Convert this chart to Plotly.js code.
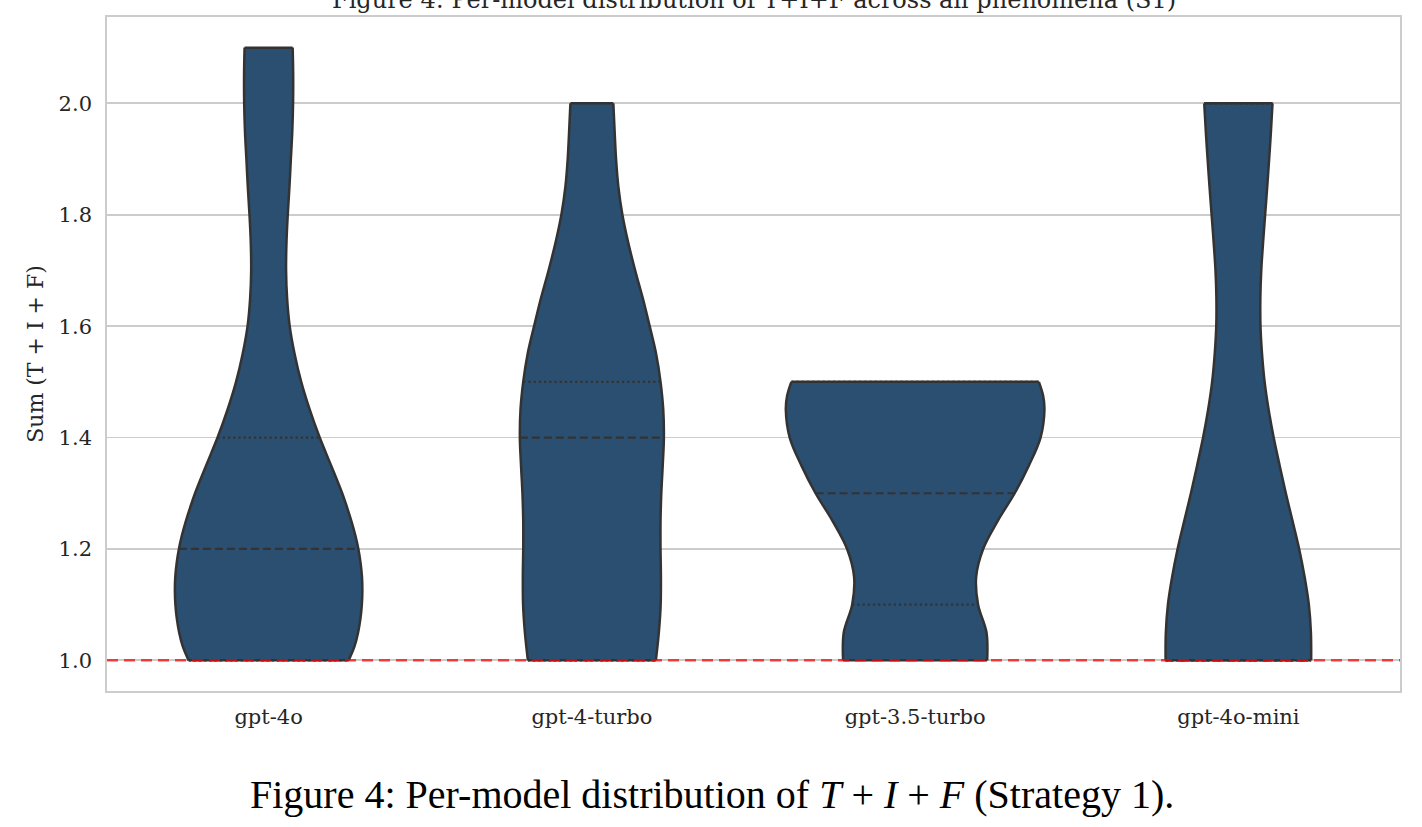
<!DOCTYPE html>
<html>
<head>
<meta charset="utf-8">
<script src="https://cdn.plot.ly/plotly-3.0.1.min.js"></script>
<style>
html,body{margin:0;padding:0;background:#ffffff;}
#chart{width:1422px;height:827px;}
</style>
</head>
<body>
<div id="chart"></div>
<script>
// ---------- data ----------
const models = ['gpt-4o', 'gpt-4-turbo', 'gpt-3.5-turbo', 'gpt-4o-mini'];

// value levels (T+I+F) and relative kernel density at each level (widest violin = 1)
const gpt4o_levels = [1.00,1.025,1.05,1.075,1.10,1.125,1.15,1.175,1.20,1.225,1.25,1.275,1.30,1.35,1.40,1.45,1.50,1.55,1.60,1.65,1.70,1.75,1.80,1.85,1.90,1.95,2.00,2.05,2.10];
const gpt4o_density = [0.619,0.664,0.692,0.710,0.721,0.725,0.722,0.711,0.694,0.670,0.640,0.606,0.569,0.483,0.395,0.318,0.252,0.201,0.163,0.143,0.135,0.138,0.148,0.161,0.172,0.183,0.189,0.190,0.186];

const gpt4turbo_levels = [1.00,1.05,1.10,1.15,1.20,1.25,1.30,1.35,1.40,1.45,1.50,1.55,1.60,1.65,1.70,1.75,1.80,1.85,1.90,1.95,2.00];
const gpt4turbo_density = [0.495,0.518,0.532,0.534,0.531,0.531,0.537,0.548,0.557,0.552,0.531,0.497,0.447,0.394,0.335,0.281,0.236,0.205,0.187,0.176,0.166];

const gpt35turbo_levels = [1.00,1.05,1.10,1.15,1.20,1.25,1.30,1.35,1.40,1.45,1.475,1.50];
const gpt35turbo_density = [0.557,0.552,0.487,0.472,0.526,0.638,0.770,0.880,0.970,1.000,0.990,0.957];

const gpt4omini_levels = [1.00,1.05,1.10,1.15,1.20,1.25,1.30,1.35,1.40,1.45,1.50,1.55,1.60,1.65,1.70,1.75,1.80,1.85,1.90,1.95,2.00];
const gpt4omini_density = [0.563,0.561,0.545,0.512,0.470,0.419,0.367,0.319,0.273,0.234,0.203,0.183,0.171,0.170,0.177,0.191,0.207,0.223,0.238,0.252,0.264];

// quartiles [Q1, median, Q3]
const gpt4o_quartiles = [1.0, 1.2, 1.4];
const gpt4turbo_quartiles = [1.0, 1.4, 1.5];
const gpt35turbo_quartiles = [1.1, 1.3, 1.5];
const gpt4omini_quartiles = [1.0, 1.0, 2.0];

const yTickValues = [1.0, 1.2, 1.4, 1.6, 1.8, 2.0];
const yTickLabels = ['1.0', '1.2', '1.4', '1.6', '1.8', '2.0'];
const referenceValue = 1.0;

const titleText = 'Figure 4: Per-model distribution of T+I+F across all phenomena (S1)';
const yTitleText = 'Sum (T + I + F)';
const captionText = 'Figure 4: Per-model distribution of <i>T</i> + <i>I</i> + <i>F</i> (Strategy 1).';

// ---------- styling ----------
const FILL = '#2b4f70';
const EDGE = '#333333';
const HALF = 0.4;           // half of the violin width (category units)
const SERIF = 'DejaVu Serif, serif';
const TEXT = '#262626';

const levelsList = [gpt4o_levels, gpt4turbo_levels, gpt35turbo_levels, gpt4omini_levels];
const densityList = [gpt4o_density, gpt4turbo_density, gpt35turbo_density, gpt4omini_density];
const quartileList = [gpt4o_quartiles, gpt4turbo_quartiles, gpt35turbo_quartiles, gpt4omini_quartiles];

function densityAt(levels, dens, v) {
  if (v <= levels[0]) return dens[0];
  for (let k = 1; k < levels.length; k++) {
    if (v <= levels[k]) {
      const t = (v - levels[k-1]) / (levels[k] - levels[k-1]);
      return dens[k-1] + t * (dens[k] - dens[k-1]);
    }
  }
  return dens[dens.length - 1];
}

const traces = [];
const common = {mode: 'lines', hoverinfo: 'skip', showlegend: false};
models.forEach((m, i) => {
  const lv = levelsList[i], d = densityList[i];
  traces.push(Object.assign({}, common, {
    x: lv.map((v, k) => i - HALF * d[k]), y: lv,
    line: {shape: 'spline', smoothing: 1, simplify: false, color: EDGE, width: 2.5}
  }));
  traces.push(Object.assign({}, common, {
    x: lv.map((v, k) => i + HALF * d[k]), y: lv,
    fill: 'tonextx', fillcolor: FILL,
    line: {shape: 'spline', smoothing: 1, simplify: false, color: EDGE, width: 2.5}
  }));
  const n = lv.length - 1;
  traces.push(Object.assign({}, common, {
    x: [i - HALF * d[0], i + HALF * d[0], null, i - HALF * d[n], i + HALF * d[n]],
    y: [lv[0], lv[0], null, lv[n], lv[n]],
    line: {color: EDGE, width: 2.5, simplify: false}
  }));
});
models.forEach((m, i) => {
  const lv = levelsList[i], d = densityList[i], q = quartileList[i];
  q.forEach((qv, j) => {
    const w = HALF * densityAt(lv, d, qv);
    traces.push(Object.assign({}, common, {
      x: [i - w, i + w], y: [qv, qv],
      line: {color: EDGE, width: 2.2, dash: j === 1 ? '8px,4px' : '2.2px,3px'}
    }));
  });
});

const layout = {
  width: 1422, height: 827,
  margin: {l: 107, r: 22, t: 17, b: 136, pad: 0},
  paper_bgcolor: '#ffffff', plot_bgcolor: '#ffffff',
  font: {family: SERIF, color: TEXT},
  showlegend: false,
  xaxis: {
    range: [-0.5, 3.5], tickmode: 'array', tickvals: [0, 1, 2, 3], ticktext: models,
    showgrid: false, zeroline: false, showline: true, mirror: true,
    linecolor: '#cccccc', linewidth: 1.8, ticks: '', ticklabelstandoff: 6,
    tickfont: {family: SERIF, size: 21, color: TEXT}, fixedrange: true
  },
  yaxis: {
    range: [0.945, 2.155], tickmode: 'array', tickvals: yTickValues, ticktext: yTickLabels,
    showgrid: true, gridcolor: '#cccccc', gridwidth: 1.8, zeroline: false,
    showline: true, mirror: true, linecolor: '#cccccc', linewidth: 1.8,
    ticks: '', ticklabelstandoff: 9,
    tickfont: {family: SERIF, size: 21, color: TEXT},
    title: {text: yTitleText, font: {family: SERIF, size: 22, color: TEXT}, standoff: 9},
    fixedrange: true
  },
  shapes: [{
    type: 'line', xref: 'paper', x0: 0, x1: 1, yref: 'y', y0: referenceValue, y1: referenceValue,
    line: {color: 'rgba(255,0,0,0.72)', width: 2.5, dash: '11px,6px'}, layer: 'above'
  }],
  annotations: [
    {text: titleText, xref: 'paper', yref: 'paper', x: 0.5, y: 1.025, xanchor: 'center', yanchor: 'middle',
     showarrow: false, font: {family: SERIF, size: 24, color: TEXT}},
    {text: captionText, xref: 'paper', yref: 'paper', x: 0.4679, y: -0.154, xanchor: 'center', yanchor: 'middle',
     showarrow: false, font: {family: 'Liberation Serif, serif', size: 40, color: '#000000'}}
  ]
};

Plotly.newPlot('chart', traces, layout, {displayModeBar: false, staticPlot: true});
</script>
</body>
</html>
